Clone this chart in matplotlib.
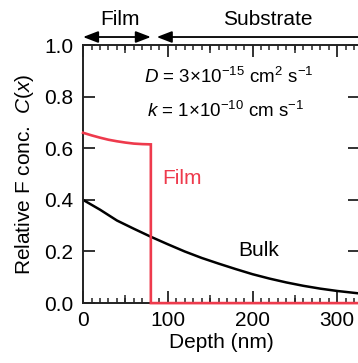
import matplotlib
matplotlib.use("Agg")
import matplotlib.pyplot as plt
import numpy as np
from matplotlib.ticker import MultipleLocator, FormatStrFormatter

plt.rcParams["font.family"] = ["Liberation Sans", "DejaVu Sans"]
plt.rcParams["mathtext.fontset"] = "custom"
plt.rcParams["mathtext.rm"] = "Liberation Sans"
plt.rcParams["mathtext.it"] = "Liberation Sans:italic"

# film profile (0-80 nm), then zero in the substrate
film_x = [0, 10, 20, 30, 40, 50, 60, 70, 80, 80, 330]
film_c = [0.660, 0.650, 0.641, 0.633, 0.627, 0.622, 0.618, 0.616, 0.615, 0.0, 0.0]

# bulk profile
bulk_x = [0, 20, 40, 60, 80, 100, 120, 140, 160, 180, 200, 220, 240, 260, 280, 300, 330]
bulk_c = [0.400, 0.362, 0.320, 0.288, 0.257, 0.228, 0.200, 0.175, 0.153, 0.132,
          0.112, 0.095, 0.080, 0.067, 0.056, 0.047, 0.036]

x_major = [0, 100, 200, 300]
x_mid = [50, 150, 250]
film_end = 80

red = "#ee3a4c"
dark = "#222222"

fig = plt.figure(figsize=(3.58, 3.63), dpi=100)
ax = fig.add_axes([0.232, 0.165, 0.774, 0.711])

ax.plot(film_x, film_c, color=red, lw=1.9, solid_joinstyle="miter", zorder=3, clip_on=False)
ax.plot(bulk_x, bulk_c, color="black", lw=1.8, zorder=2)

ax.set_xlim(0, 327)
ax.set_ylim(0, 1.0)
ax.set_xticks(x_major)
ax.xaxis.set_minor_locator(MultipleLocator(10))
ax.yaxis.set_major_locator(MultipleLocator(0.2))
ax.yaxis.set_major_formatter(FormatStrFormatter("%.1f"))

for s in ax.spines.values():
    s.set_linewidth(1.4)
    s.set_color(dark)

ax.tick_params(which="major", direction="in", length=8.5, width=1.3, color=dark,
               top=True, right=True, labelsize=15, pad=6)
ax.tick_params(which="minor", direction="in", length=3.6, width=1.1, color=dark,
               top=True, bottom=True)
ax.tick_params(axis="y", which="minor", left=False, right=False)
ax.tick_params(axis="y", pad=7)

# medium ticks at 50 nm steps
for side in ["bottom", "top"]:
    sec = ax.secondary_xaxis(side)
    sec.set_xticks(x_mid)
    sec.set_xticklabels([])
    sec.tick_params(direction="in", length=6, width=1.1, color=dark)
    sec.spines[side].set_visible(False)

ax.set_xlabel("Depth (nm)", fontsize=15, labelpad=2)
ax.set_ylabel(r"Relative F conc.  $\mathit{C}$($\mathit{x}$)", fontsize=15, labelpad=6)

ax.text(72, 0.877, r"$\mathit{D}$ = 3×10$^{-15}$ cm$^{2}$ s$^{-1}$", fontsize=13.5,
        va="center", ha="left")
ax.text(76, 0.745, r"$\mathit{k}$ = 1×10$^{-10}$ cm s$^{-1}$", fontsize=13.5,
        va="center", ha="left")

ax.text(94, 0.484, "Film", color=red, fontsize=15, va="center", ha="left")
ax.text(183, 0.205, "Bulk", color="black", fontsize=15, va="center", ha="left")

# region arrows above the plot
arrow_y = 1.031
head = "head_length=0.65,head_width=0.25"
ax.annotate("", xy=(0, arrow_y), xytext=(film_end, arrow_y), annotation_clip=False,
            arrowprops=dict(arrowstyle="<|-|>," + head, color="black", lw=1.3,
                            mutation_scale=14, shrinkA=0, shrinkB=0))
ax.annotate("", xy=(87, arrow_y), xytext=(400, arrow_y), annotation_clip=False,
            arrowprops=dict(arrowstyle="-|>," + head, color="black", lw=1.3,
                            mutation_scale=14, shrinkA=0, shrinkB=0))
ax.text(44, 1.097, "Film", fontsize=15, ha="center", va="center")
ax.text(218, 1.097, "Substrate", fontsize=15, ha="center", va="center")

fig.savefig("out.png", dpi=100)
